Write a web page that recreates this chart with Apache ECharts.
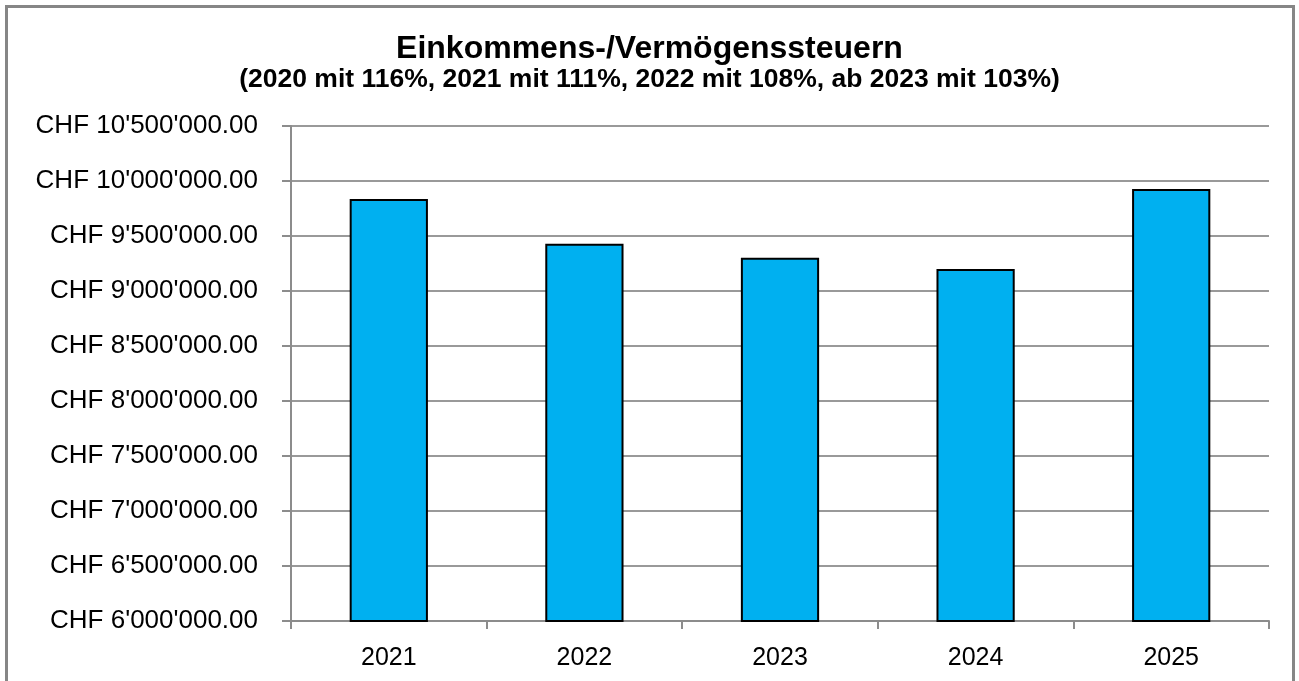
<!DOCTYPE html>
<html>
<head>
    <meta charset="UTF-8">
    <title>Einkommens-/Vermögenssteuern</title>
    <script src="https://cdn.jsdelivr.net/npm/echarts@6/dist/echarts.min.js"></script>
    <style>
        html, body { margin: 0; padding: 0; background: #fff; }
        #chart { width: 1299px; height: 681px; }
    </style>
</head>
<body>
<div id="chart"></div>
<script>
    const years = ['2021', '2022', '2023', '2024', '2025']
    const taxValues = [9836000, 9430000, 9303000, 9200000, 9927000]

    // 10500000 -> CHF 10'500'000.00
    function chf(v) {
        let s = Math.round(v).toString().replace(/\B(?=(\d{3})+(?!\d))/g, "'")
        return 'CHF ' + s + '.00'
    }

    let chart = echarts.init(document.getElementById('chart'), null, {renderer: 'canvas'})
    chart.setOption({
        animation: false,
        backgroundColor: '#fff',
        textStyle: { fontFamily: 'Liberation Sans, Arial, sans-serif' },
        graphic: [{
            type: 'rect',
            shape: { x: 6.5, y: 6.5, width: 1287, height: 700 },
            style: { fill: 'none', stroke: '#868686', lineWidth: 3 },
            silent: true
        }],
        title: {
            text: 'Einkommens-/Vermögenssteuern',
            subtext: '(2020 mit 116%, 2021 mit 111%, 2022 mit 108%, ab 2023 mit 103%)',
            left: 'center',
            top: 28,
            itemGap: 1,
            textStyle: { fontSize: 32, fontWeight: 'bold', color: '#000', fontFamily: 'Liberation Sans, Arial' },
            subtextStyle: { fontSize: 26.5, fontWeight: 'bold', color: '#000', fontFamily: 'Liberation Sans, Arial' }
        },
        grid: { left: 291, right: 30, top: 126, bottom: 60 },
        xAxis: {
            type: 'category',
            data: years,
            axisLine: { lineStyle: { color: '#8c8c8c', width: 2 } },
            axisTick: { show: true, length: 8, lineStyle: { color: '#8c8c8c', width: 2 } },
            axisLabel: { color: '#000', fontSize: 25, margin: 25 }
        },
        yAxis: {
            type: 'value',
            min: 6000000,
            max: 10500000,
            interval: 500000,
            axisLine: { show: true, lineStyle: { color: '#8c8c8c', width: 2 } },
            axisTick: { show: true, length: 9, lineStyle: { color: '#8c8c8c', width: 2 } },
            axisLabel: { color: '#000', fontSize: 26, margin: 33, formatter: chf },
            splitLine: { lineStyle: { color: '#999', width: 2 } }
        },
        series: [{
            type: 'bar',
            data: taxValues,
            barWidth: '40%',
            itemStyle: { color: '#00B0F0', borderColor: '#000', borderWidth: 2 }
        }]
    })
</script>
</body>
</html>
